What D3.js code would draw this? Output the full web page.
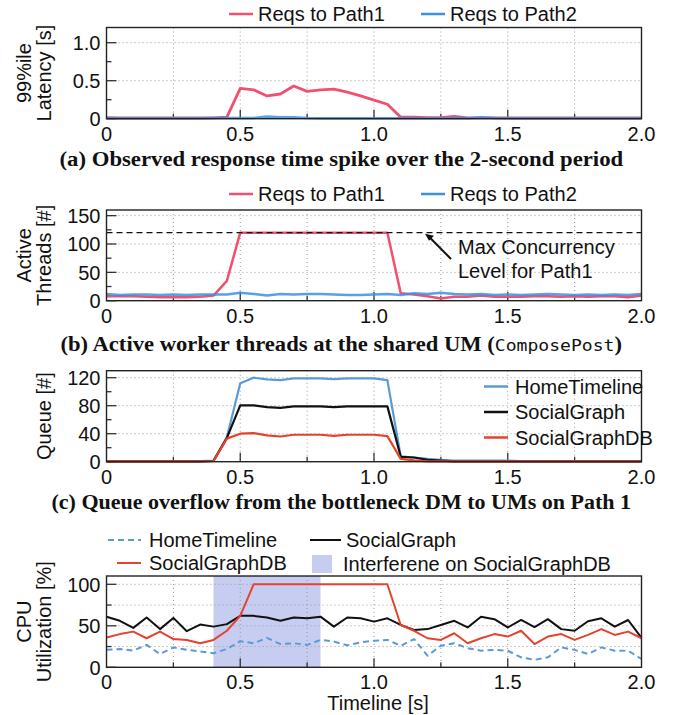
<!DOCTYPE html>
<html>
<head>
<meta charset="utf-8">
<script src="https://cdn.jsdelivr.net/npm/d3@7"></script>
<style>
  body { margin: 0; background: #fff; }
  text { font-family: "Liberation Sans", Arial, sans-serif; fill: #111; }
</style>
</head>
<body>
<svg id="chart" width="683" height="715"></svg>
<script>
// time axis (s), sampled every 50 ms
const times = [0, 0.05, 0.1, 0.15, 0.2, 0.25, 0.3, 0.35, 0.4, 0.45, 0.5, 0.55, 0.6, 0.65, 0.7, 0.75, 0.8, 0.85, 0.9, 0.95,
  1.0, 1.05, 1.1, 1.15, 1.2, 1.25, 1.3, 1.35, 1.4, 1.45, 1.5, 1.55, 1.6, 1.65, 1.7, 1.75, 1.8, 1.85, 1.9, 1.95, 2.0];
const xTicks = [0, 0.5, 1.0, 1.5, 2.0];
const xTickLabels = ["0", "0.5", "1.0", "1.5", "2.0"];

// (a) 99%ile latency [s]
const latencyPath1 = [0.015, 0.01, 0.01, 0.01, 0.01, 0.01, 0.01, 0.01, 0.01, 0.02, 0.40, 0.38, 0.30, 0.325, 0.43, 0.36, 0.38, 0.39, 0.35, 0.30,
  0.245, 0.19, 0.02, 0.02, 0.015, 0.015, 0.03, 0.01, 0.01, 0.01, 0.01, 0.01, 0.01, 0.01, 0.01, 0.01, 0.01, 0.01, 0.01, 0.01, 0.01];
const latencyPath2 = [0.005, 0.005, 0.005, 0.005, 0.005, 0.005, 0.005, 0.005, 0.01, 0.01, 0.01, 0.01, 0.03, 0.02, 0.02, 0.01, 0.005, 0.005, 0.005, 0.005,
  0.005, 0.005, 0.005, 0.005, 0.005, 0.005, 0.01, 0.005, 0.02, 0.01, 0.005, 0.005, 0.005, 0.005, 0.005, 0.005, 0.005, 0.005, 0.005, 0.005, 0.005];

// (b) active threads [#]
const threadsPath1 = [8, 8, 8, 7, 6, 6, 6, 7, 9, 35, 120, 120, 120, 120, 120, 120, 120, 120, 120, 120,
  120, 120, 13, 11, 8, 4, 7, 7, 9, 7, 7, 7, 8, 8, 7, 8, 7, 8, 8, 6, 9];
const threadsPath2 = [12, 10, 11, 11, 10, 11, 10, 11, 11, 11, 14, 12, 9, 12, 11, 12, 12, 11, 10, 10,
  11, 12, 10, 13, 12, 14, 12, 11, 12, 10, 11, 10, 11, 12, 11, 10, 11, 10, 11, 10, 12];
const maxConcurrency = 120;

// (c) queue [#]
const queueHomeTimeline = [1, 1, 1, 1, 1, 1, 1, 1, 1.5, 35, 112, 120, 117.5, 116.5, 119, 119, 119, 118, 119, 119,
  119, 116.5, 7.5, 6, 4, 2.5, 1.5, 1.5, 1.5, 1.5, 1.5, 1, 1, 1, 1, 1, 1, 1, 1, 1, 1];
const queueSocialGraph = [0.5, 0.5, 0.5, 0.5, 0.5, 0.5, 0.5, 0.5, 1, 34, 80.5, 80.5, 78, 77, 79, 79, 79, 78, 79, 79,
  79, 79, 7, 6, 2.5, 1.5, 0.5, 0.5, 0.5, 0.5, 0.5, 0.5, 0.5, 0.5, 0.5, 0.5, 0.5, 0.5, 0.5, 0.5, 0.5];
const queueSocialGraphDB = [0.5, 0.5, 0.5, 0.5, 0.5, 0.5, 0.5, 0.5, 1, 33, 40, 40.8, 37.5, 36, 38.5, 38.5, 38.5, 37, 38.5, 38.5,
  38.5, 36.5, 4, 2, 0.5, 0.5, 0.5, 0.5, 0.5, 0.5, 0.5, 0.5, 0.5, 0.5, 0.5, 0.5, 0.5, 0.5, 0.5, 0.5, 0.5];

// (d) CPU utilization [%]
const cpuHomeTimeline = [21, 22, 20, 27, 16, 24, 21, 19, 17, 22, 31.5, 29, 35.5, 28, 29, 27, 33, 31, 26.5, 30,
  32, 33, 26, 34, 14, 26, 29, 23, 20, 21, 20, 12, 9, 12, 24, 21, 16, 24, 20, 20, 10];
const cpuSocialGraph = [61, 56, 47.5, 60, 46, 59.5, 43.5, 51.5, 49, 52, 62, 62, 60, 56, 60, 59, 61, 49, 60, 59,
  55, 59, 51, 45, 46, 51, 56, 48, 61, 58, 48, 57, 48.5, 58, 46, 44, 55.5, 59, 49, 57, 35.5];
const cpuSocialGraphDB = [36, 40, 43, 35, 43, 34, 33, 29, 33, 44, 62, 100, 100, 100, 100, 100, 100, 100, 100, 100,
  100, 100, 51, 44, 35, 33, 41, 29, 35, 40, 37, 44, 28, 37, 40, 33, 39, 46, 39, 43, 35];
const interference = [0.4, 0.8];

const svg = d3.select("#chart");
const left = 106.5, right = 641.5;
const x = d3.scaleLinear().domain([0, 2]).range([left, right]);

const RED = "#f2506f", BLUE = "#3b8fe6";
const HT_BLUE = "#5b9bd5", SG_BLACK = "#111", DB_RED = "#e5432c";

function panel(o) {
  const y = d3.scaleLinear().domain(o.domain).range([o.bottom, o.top]);
  const g = svg.append("g");

  // shaded band
  if (o.band) {
    g.append("rect")
      .attr("x", x(o.band[0])).attr("y", o.top)
      .attr("width", x(o.band[1]) - x(o.band[0])).attr("height", o.bottom - o.top)
      .attr("fill", "#c7ccf1");
  }

  // grid
  const vgrid = d3.range(1, 8).map(i => i * 0.25);
  g.selectAll(".vg").data(vgrid).enter().append("line")
    .attr("x1", d => x(d)).attr("x2", d => x(d))
    .attr("y1", o.top).attr("y2", o.bottom)
    .attr("stroke", "#9a9a9a").attr("stroke-width", 1).attr("stroke-dasharray", "1,3");
  g.selectAll(".hg").data(o.grid).enter().append("line")
    .attr("x1", left).attr("x2", right)
    .attr("y1", d => y(d)).attr("y2", d => y(d))
    .attr("stroke", "#9a9a9a").attr("stroke-width", 1).attr("stroke-dasharray", "1,3");

  // ticks (inward)
  g.selectAll(".yt").data(o.major).enter().append("line")
    .attr("x1", left).attr("x2", left + 10)
    .attr("y1", d => y(d)).attr("y2", d => y(d))
    .attr("stroke", "#333").attr("stroke-width", 1.3);
  g.selectAll(".ym").data(o.minor).enter().append("line")
    .attr("x1", left).attr("x2", left + 5)
    .attr("y1", d => y(d)).attr("y2", d => y(d))
    .attr("stroke", "#333").attr("stroke-width", 1.3);
  g.selectAll(".xt").data(vgrid).enter().append("line")
    .attr("x1", d => x(d)).attr("x2", d => x(d))
    .attr("y1", o.bottom).attr("y2", d => o.bottom - (d % 0.5 === 0 ? 9 : 5))
    .attr("stroke", "#333").attr("stroke-width", 1.3);

  // series
  o.series.forEach(s => {
    const line = d3.line().x((d, i) => x(times[i])).y(d => y(d));
    g.append("path").datum(s.values)
      .attr("d", line)
      .attr("fill", "none")
      .attr("stroke", s.color)
      .attr("stroke-width", s.width || 2)
      .attr("stroke-opacity", s.opacity || 1)
      .attr("stroke-dasharray", s.dash || null)
      .attr("stroke-linejoin", "round");
  });

  if (o.extra) o.extra(g, y);

  // frame
  g.append("rect")
    .attr("x", left).attr("y", o.top)
    .attr("width", right - left).attr("height", o.bottom - o.top)
    .attr("fill", "none").attr("stroke", "#222").attr("stroke-width", 1.4);

  // y tick labels
  g.selectAll(".yl").data(o.major).enter().append("text")
    .attr("x", left - 6).attr("y", d => y(d))
    .attr("dy", "0.36em")
    .attr("text-anchor", "end")
    .style("font-size", "20px")
    .text((d, i) => o.labels[i]);

  // x tick labels
  g.selectAll(".xl").data(xTicks).enter().append("text")
    .attr("x", d => x(d)).attr("y", o.bottom + 22)
    .attr("text-anchor", "middle")
    .style("font-size", "20px")
    .text((d, i) => xTickLabels[i]);

  // y title (one or two lines, rotated)
  const cy = (o.top + o.bottom) / 2;
  o.title.forEach((t, i) => {
    const bx = o.title.length === 2 ? (i === 0 ? 31 : 51) : 51;
    g.append("text")
      .attr("transform", `translate(${bx},${cy}) rotate(-90)`)
      .attr("text-anchor", "middle")
      .style("font-size", "20px")
      .text(t);
  });

  return { g, y };
}

function legendItem(g, lx, ly, len, color, label, opts = {}) {
  if (opts.box) {
    g.append("rect").attr("x", lx).attr("y", ly - 9).attr("width", len).attr("height", 18).attr("fill", color);
  } else {
    g.append("line")
      .attr("x1", lx).attr("x2", lx + len).attr("y1", ly).attr("y2", ly)
      .attr("stroke", color).attr("stroke-width", opts.width || 2.5)
      .attr("stroke-dasharray", opts.dash || null);
  }
  g.append("text")
    .attr("x", lx + len + (opts.gap || 5)).attr("y", ly)
    .attr("dy", "0.36em")
    .style("font-size", "20px")
    .text(label);
}

function caption(yBase, parts, targetWidth) {
  const t = svg.append("text")
    .attr("x", 0).attr("y", 0)
    .style("font-family", "'Liberation Serif', 'Times New Roman', serif")
    .style("font-weight", "bold")
    .style("font-size", "20px");
  parts.forEach(p => {
    const ts = t.append("tspan").text(p.text);
    if (p.mono) {
      ts.style("font-family", "'DejaVu Sans Mono', monospace")
        .style("font-weight", "normal")
        .style("font-size", "16px");
    }
  });
  const w = t.node().getBBox().width;
  const sx = targetWidth / w;
  t.attr("transform", `translate(${341.5 - targetWidth / 2},${yBase}) scale(${sx},1)`);
}

// ---------- (a)
panel({
  top: 27.5, bottom: 118.7, domain: [0, 1.2],
  major: [0, 0.5, 1.0], labels: ["0", "0.5", "1.0"], minor: [0.25, 0.75], grid: [0.5, 1.0],
  title: ["99%ile", "Latency [s]"],
  series: [
    { values: latencyPath1, color: RED, width: 2.8 },
    { values: latencyPath2, color: BLUE, width: 2.5, opacity: 0.85 }
  ]
});
legendItem(svg, 229, 14, 24, RED, "Reqs to Path1");
legendItem(svg, 421, 14, 24, BLUE, "Reqs to Path2");
caption(166, [{ text: "(a) Observed response time spike over the 2-second period" }], 564);

// ---------- (b)
panel({
  top: 210, bottom: 300.7, domain: [0, 160],
  major: [0, 50, 100, 150], labels: ["0", "50", "100", "150"], minor: [25, 75, 125], grid: [50, 100, 150],
  title: ["Active", "Threads [#]"],
  series: [
    { values: threadsPath1, color: RED, width: 2.5 },
    { values: threadsPath2, color: BLUE, width: 2.5, opacity: 0.85 }
  ],
  extra: (g, y) => {
    g.append("line")
      .attr("x1", left).attr("x2", right)
      .attr("y1", y(maxConcurrency)).attr("y2", y(maxConcurrency))
      .attr("stroke", "#111").attr("stroke-width", 1.3).attr("stroke-dasharray", "6,4");
    g.append("line")
      .attr("x1", 451).attr("y1", 259).attr("x2", 429).attr("y2", y(maxConcurrency) + 4)
      .attr("stroke", "#111").attr("stroke-width", 2);
    g.append("path")
      .attr("d", `M425,${y(maxConcurrency) + 1} l9,2 l-5,5 z`)
      .attr("fill", "#111");
    g.append("text").attr("x", 458).attr("y", 254).style("font-size", "20px").text("Max Concurrency");
    g.append("text").attr("x", 458).attr("y", 278).style("font-size", "20px").text("Level for Path1");
  }
});
legendItem(svg, 229, 194, 24, RED, "Reqs to Path1");
legendItem(svg, 421, 194, 24, BLUE, "Reqs to Path2");
caption(351, [{ text: "(b) Active worker threads at the shared UM (" }, { text: "ComposePost", mono: true }, { text: ")" }], 562);

// ---------- (c)
panel({
  top: 370.7, bottom: 461.7, domain: [0, 130],
  major: [0, 40, 80, 120], labels: ["0", "40", "80", "120"], minor: [20, 60, 100], grid: [40, 80, 120],
  title: ["Queue [#]"],
  series: [
    { values: queueHomeTimeline, color: HT_BLUE, width: 2.2 },
    { values: queueSocialGraph, color: SG_BLACK, width: 2.2 },
    { values: queueSocialGraphDB, color: DB_RED, width: 2.2 }
  ]
});
legendItem(svg, 484, 386.5, 24, HT_BLUE, "HomeTimeline", { gap: 7 });
legendItem(svg, 484, 412, 24, SG_BLACK, "SocialGraph", { gap: 7 });
legendItem(svg, 484, 437.5, 24, DB_RED, "SocialGraphDB", { gap: 7 });
caption(509, [{ text: "(c) Queue overflow from the bottleneck DM to UMs on Path 1" }], 580);

// ---------- (d)
panel({
  top: 576, bottom: 667.3, domain: [0, 110],
  major: [0, 50, 100], labels: ["0", "50", "100"], minor: [25, 75], grid: [25, 50, 75, 100],
  title: ["CPU", "Utilization [%]"],
  band: interference,
  series: [
    { values: cpuHomeTimeline, color: HT_BLUE, width: 2, dash: "6,4" },
    { values: cpuSocialGraph, color: SG_BLACK, width: 2 },
    { values: cpuSocialGraphDB, color: DB_RED, width: 2 }
  ]
});
legendItem(svg, 108, 540, 33, HT_BLUE, "HomeTimeline", { dash: "6,4", width: 2, gap: 8 });
legendItem(svg, 310, 540, 31, SG_BLACK, "SocialGraph", { width: 2, gap: 5 });
legendItem(svg, 117, 563, 24, DB_RED, "SocialGraphDB", { width: 2, gap: 8 });
legendItem(svg, 312, 564, 20, "#c7ccf1", "Interferene on SocialGraphDB", { box: true, gap: 11 });

svg.append("text")
  .attr("x", x(1.0) + 4).attr("y", 710)
  .attr("text-anchor", "middle")
  .style("font-size", "20px")
  .text("Timeline [s]");
</script>
</body>
</html>
